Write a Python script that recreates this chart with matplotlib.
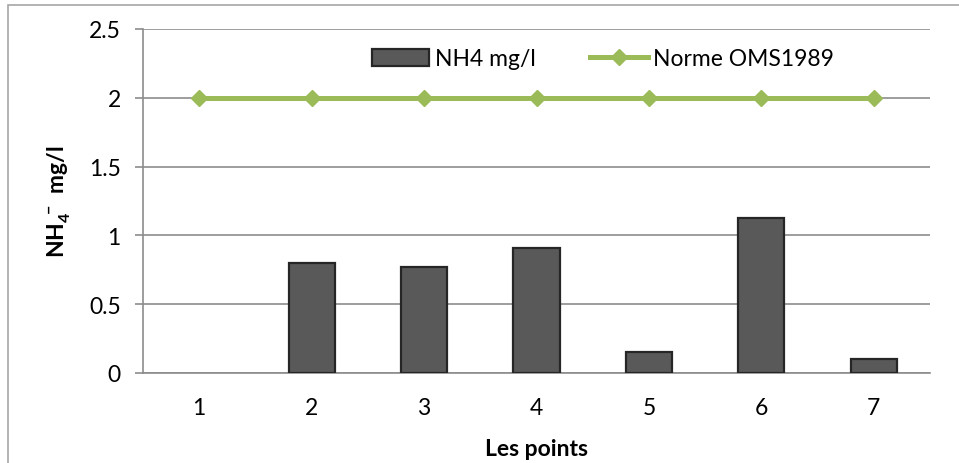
import matplotlib
matplotlib.use("Agg")
import matplotlib.pyplot as plt
from matplotlib.patches import Rectangle, Patch

# data
points = ["1", "2", "3", "4", "5", "6", "7"]
nh4 = [0.0, 0.80, 0.77, 0.91, 0.15, 1.13, 0.10]
norme = [2, 2, 2, 2, 2, 2, 2]
yticks = [0, 0.5, 1, 1.5, 2, 2.5]

plt.rcParams['font.family'] = ['Lato', 'DejaVu Sans']
plt.rcParams['mathtext.fontset'] = 'custom'
plt.rcParams['mathtext.rm'] = 'Lato'
plt.rcParams['mathtext.bf'] = 'Lato:bold'

fs = 16.5

fig = plt.figure(figsize=(9.59, 4.64), dpi=100)
ax = fig.add_axes([143 / 959, 1 - 374 / 464, 787 / 959, 344 / 464])

# outer chart border
fig.patches.append(Rectangle((8 / 959, -0.05), 1.0, 1 - 6 / 464 + 0.05,
                             transform=fig.transFigure, fill=False,
                             edgecolor='#a6a6a6', linewidth=1.2))

x = list(range(len(points)))
# no outline for empty bars (Excel draws nothing there)
edge_w = [1.6 if v > 0 else 0 for v in nh4]
ax.bar(x, nh4, width=0.41, color='#595959', edgecolor='#262626',
       linewidth=edge_w, zorder=3)
line, = ax.plot(x, norme, color='#9bbb59', linewidth=3.6, marker='D',
                markersize=8.5, label='Norme OMS1989', zorder=4)

ax.set_xlim(-0.5, len(points) - 0.5)
ax.set_ylim(0, 2.5)
ax.set_yticks(yticks)
ax.set_yticklabels([f"{v:g}" for v in yticks])
ax.set_xticks(x)
ax.set_xticklabels(points)

ax.grid(axis='y', color='#8c8c8c', linewidth=1.2, zorder=0)
ax.set_axisbelow(True)
for s in ['top', 'right']:
    ax.spines[s].set_visible(False)
for s in ['left', 'bottom']:
    ax.spines[s].set_color('#8c8c8c')
    ax.spines[s].set_linewidth(1.2)

ax.tick_params(axis='y', length=6, width=1.2, color='#8c8c8c', pad=10,
               labelsize=fs)
ax.tick_params(axis='x', length=0, pad=17, labelsize=fs)

ax.set_xlabel('Les points', fontsize=fs, fontweight='bold', labelpad=15)
ax.set_ylabel(r'$\mathbf{NH_4^{\ -}\ mg/l}$', fontsize=fs, labelpad=12)

bar_handle = Patch(facecolor='#595959', edgecolor='#262626', linewidth=1.6)
ax.legend([bar_handle, line], ['NH4 mg/l', 'Norme OMS1989'],
          loc='center', bbox_to_anchor=(603 / 959, 1 - 60 / 464),
          bbox_transform=fig.transFigure, ncol=2, frameon=False,
          fontsize=fs, handlelength=2.5, handleheight=0.7,
          handletextpad=0.25, columnspacing=2.4)

fig.savefig('out.png', dpi=100)
